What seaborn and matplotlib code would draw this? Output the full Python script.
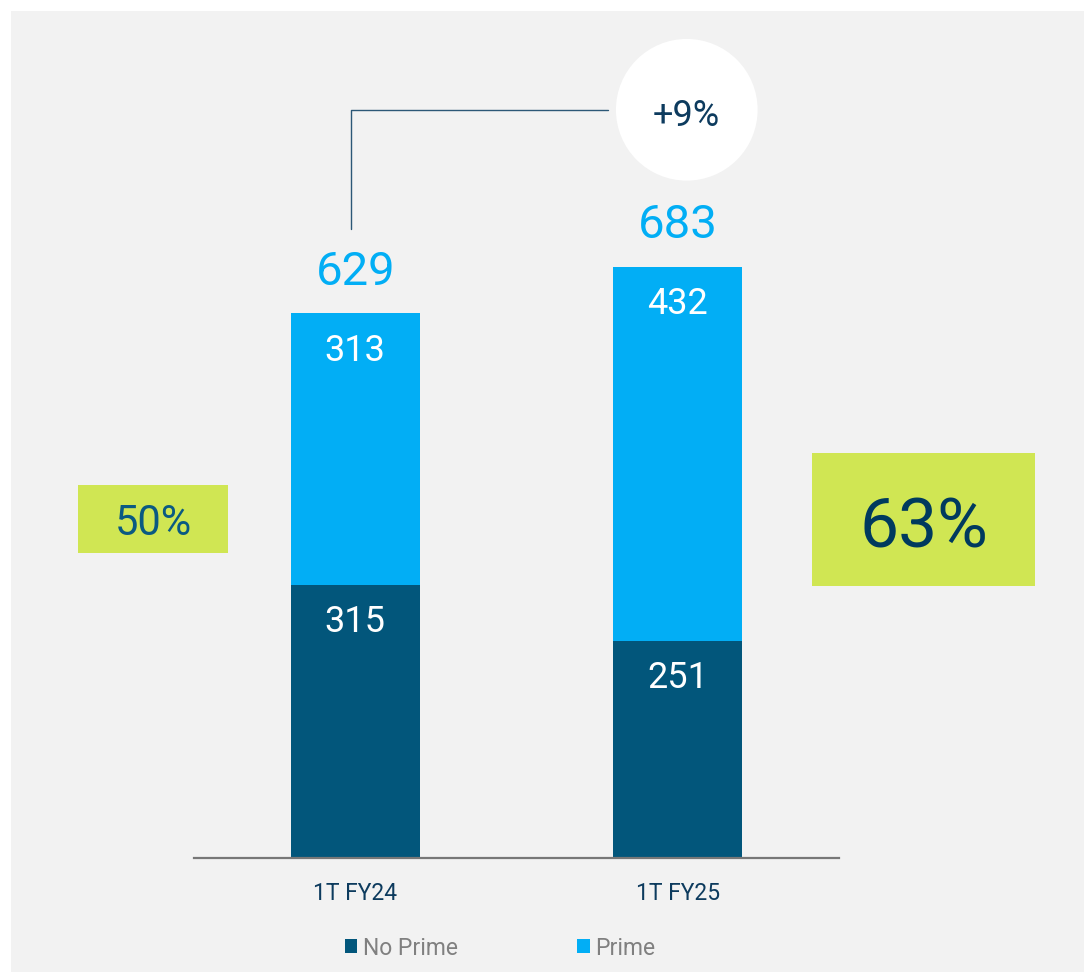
import pandas as pd
import matplotlib.pyplot as plt
import seaborn as sns
from matplotlib.patches import Rectangle, Patch
from matplotlib.lines import Line2D

# --- Data ---
periods = ["1T FY24", "1T FY25"]
no_prime = [315, 251]
prime = [313, 432]
totals = [629, 683]
growth_label = "+9%"
prime_share = ["50%", "63%"]
series_names = ["No Prime", "Prime"]

# --- Styling ---
dark_blue = "#02567b"
light_blue = "#02aef5"
navy = "#0d3b5e"
lime = "#d0e653"
panel_gray = "#f2f2f2"

sns.set_style("white")
plt.rcParams["font.family"] = ["Roboto", "DejaVu Sans"]

W, H = 1084, 972


def fx(px):
    return px / W


def fy(py):
    return 1 - py / H


df = pd.DataFrame({"period": periods, "no_prime": no_prime, "prime": prime, "total": totals})

fig = plt.figure(figsize=(W / 100, H / 100), dpi=100, facecolor="white")
fig.patches.append(Rectangle((fx(11), 0), 1 - fx(11), fy(11), transform=fig.transFigure,
                             facecolor=panel_gray, edgecolor="none", zorder=-10))

# axes: baseline at y=858px, 0.866 px per unit
ax = fig.add_axes([fx(194), fy(858), fx(839) - fx(194), 960 * 0.866 / H])
ax.set_facecolor("none")

sns.barplot(data=df, x="period", y="total", color=light_blue, width=0.4, saturation=1,
            linewidth=0, ax=ax)
sns.barplot(data=df, x="period", y="no_prime", color=dark_blue, width=0.4, saturation=1,
            linewidth=0, ax=ax)

ax.set_xlim(-0.5, 1.5)
ax.set_ylim(0, 960)
ax.set_xlabel("")
ax.set_ylabel("")
ax.set_yticks([])
for s in ["left", "top", "right"]:
    ax.spines[s].set_visible(False)
ax.spines["bottom"].set_color("#777777")
ax.spines["bottom"].set_linewidth(1.6)
ax.tick_params(axis="x", length=0, pad=17, labelsize=16.5, labelcolor=navy)

# segment labels
for i in range(len(periods)):
    ax.text(i, no_prime[i] - 43, str(no_prime[i]), ha="center", va="center",
            color="white", fontsize=26)
    ax.text(i, totals[i] - 43, str(prime[i]), ha="center", va="center",
            color="white", fontsize=26)
    ax.text(i, totals[i] + 33, str(totals[i]), ha="center", va="baseline",
            color=light_blue, fontsize=34)

# growth bracket and bubble
bracket_y = 864
ax.add_line(Line2D([-0.012, -0.012, 0.783], [totals[0] + 97, bracket_y, bracket_y],
                   color="#2c5877", lw=1.0, clip_on=False))
ax.scatter([1.028], [bracket_y], s=102 ** 2, color="white", edgecolor="none",
           clip_on=False, zorder=5)
ax.text(1.028, bracket_y - 19, growth_label, ha="center", va="baseline", color=navy,
        fontsize=26, zorder=6)

# prime share boxes (x0, y0, x1, y1, text baseline, font size, colour) in pixels
boxes = [(78, 485, 228, 553, 535, 30, "#0a5a82"), (812, 453, 1035, 586, 548, 50, "#003a5e")]
for (x0, y0, x1, y1, base, size, col), lab in zip(boxes, prime_share):
    fig.patches.append(Rectangle((fx(x0), fy(y1)), fx(x1) - fx(x0), fy(y0) - fy(y1),
                                 transform=fig.transFigure, facecolor=lime,
                                 edgecolor="none", zorder=1))
    fig.text(fx((x0 + x1) / 2), fy(base), lab, ha="center", va="baseline",
             color=col, fontsize=size, zorder=2)

# legend
handles = [Patch(facecolor=dark_blue, edgecolor="none"), Patch(facecolor=light_blue, edgecolor="none")]
leg = fig.legend(handles, series_names, loc="center", bbox_to_anchor=(fx(500), fy(948)),
                 ncol=2, frameon=False, fontsize=16.5, handlelength=0.55, handleheight=0.55,
                 handletextpad=0.25, columnspacing=5.2)
for t in leg.get_texts():
    t.set_color("#808080")

plt.savefig("out.png", dpi=100, facecolor=fig.get_facecolor())
